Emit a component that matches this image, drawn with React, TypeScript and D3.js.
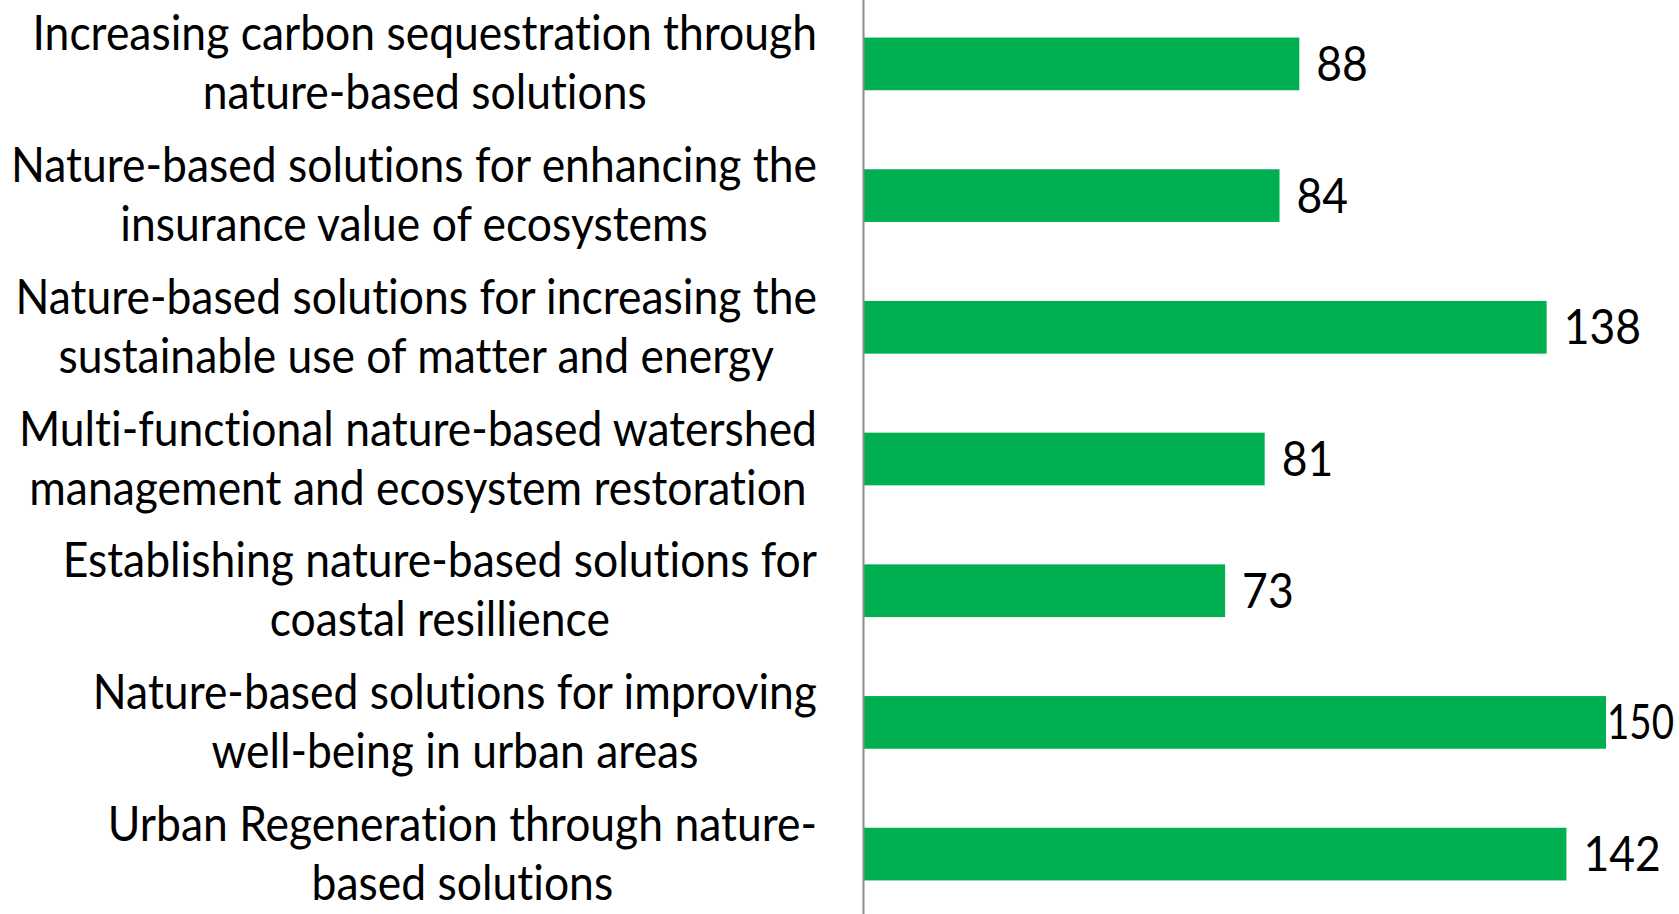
import React, { useRef, useEffect } from 'react';
import * as d3 from 'd3';

// category labels, split into lines as in the original
const labels: string[][] = [
    ['Increasing carbon sequestration through', 'nature-based solutions'],
    ['Nature-based solutions for enhancing the', 'insurance value of ecosystems'],
    ['Nature-based solutions for increasing the', 'sustainable use of matter and energy'],
    ['Multi-functional nature-based watershed', 'management and ecosystem restoration'],
    ['Establishing nature-based solutions for', 'coastal resillience'],
    ['Nature-based solutions for improving', 'well-being in urban areas'],
    ['Urban Regeneration through nature-', 'based solutions'],
];
const values: number[] = [88, 84, 138, 81, 73, 150, 142];

const W = 1679;
const H = 914;
const FONT = 'Lato, "Open Sans", sans-serif';

const App = () => {
    const svgRef = useRef<SVGSVGElement>(null);

    useEffect(() => {
        const svg = d3.select(svgRef.current);
        svg.selectAll('*').remove();

        const ids = labels.map((_, i) => String(i));
        const y = d3.scaleBand().domain(ids).range([2, 916]).paddingInner(0.6).paddingOuter(0.27);
        const x = d3.scaleLinear().domain([0, 150]).range([864, 1606]);
        const fontSize = 48;
        const lineH = 59;

        const txt = (sel: any) => sel
            .attr('font-family', FONT)
            .attr('font-size', fontSize)
            .attr('fill', '#000')
            .style('font-variant-ligatures', 'none');

        // horizontal squeeze so the fallback font takes the width of the original (Calibri)
        const probe = txt(svg.append('text')).text(labels[1][0]);
        const k = 806 / (probe.node() as SVGTextElement).getComputedTextLength();
        probe.remove();
        const squeeze = (sel: any) => sel.each(function (this: SVGTextElement) {
            const w = this.getComputedTextLength();
            d3.select(this).attr('textLength', w * k).attr('lengthAdjust', 'spacingAndGlyphs');
        });

        // bars
        svg.selectAll('.bar')
            .data(values)
            .join('rect')
            .attr('class', 'bar')
            .attr('x', x(0))
            .attr('y', (_, i) => y(String(i)) as number)
            .attr('width', d => x(d) - x(0))
            .attr('height', y.bandwidth())
            .attr('fill', '#00B050');

        // axis line
        svg.append('line')
            .attr('x1', x(0) - 0.5).attr('x2', x(0) - 0.5)
            .attr('y1', 0).attr('y2', H)
            .attr('stroke', '#8c8c8c').attr('stroke-width', 2);

        // value labels (pushed against the bar end and narrowed when there is no room)
        const vl = txt(svg.selectAll('.val')
            .data(values)
            .join('text')
            .attr('class', 'val'))
            .text((d: number) => d);
        vl.each(function (this: SVGTextElement, d: number, i: number) {
            const nat = this.getComputedTextLength();
            const py = (y(String(i)) as number) + y.bandwidth() / 2 + 17;
            let px = x(d) + 17;
            let sx = k;
            if (px + nat * k > W - 4) {
                px = x(d) + 1;
                sx = Math.min(k, (W - 5 - px) / nat);
            }
            d3.select(this).attr('transform', `translate(${px},${py}) scale(${sx},1)`);
        });

        // category labels: block right aligned, lines centred within the block
        const right = 817;
        labels.forEach((lines, i) => {
            const cy = (y(String(i)) as number) + y.bandwidth() / 2;
            const g = svg.append('g');
            const ts = txt(g.selectAll('text')
                .data(lines)
                .join('text'))
                .attr('text-anchor', 'middle')
                .attr('y', (_: string, j: number) => cy + (j - (lines.length - 1) / 2) * lineH + 16)
                .text((d: string) => d);
            let maxW = 0;
            ts.each(function (this: SVGTextElement) {
                maxW = Math.max(maxW, this.getComputedTextLength() * k);
            });
            squeeze(ts);
            ts.attr('x', right - maxW / 2);
        });
    }, []);

    return (
        <svg ref={svgRef} width={W} height={H}
            style={{ position: 'absolute', left: 0, top: 0, background: '#fff' }} />
    );
};

export default App;
